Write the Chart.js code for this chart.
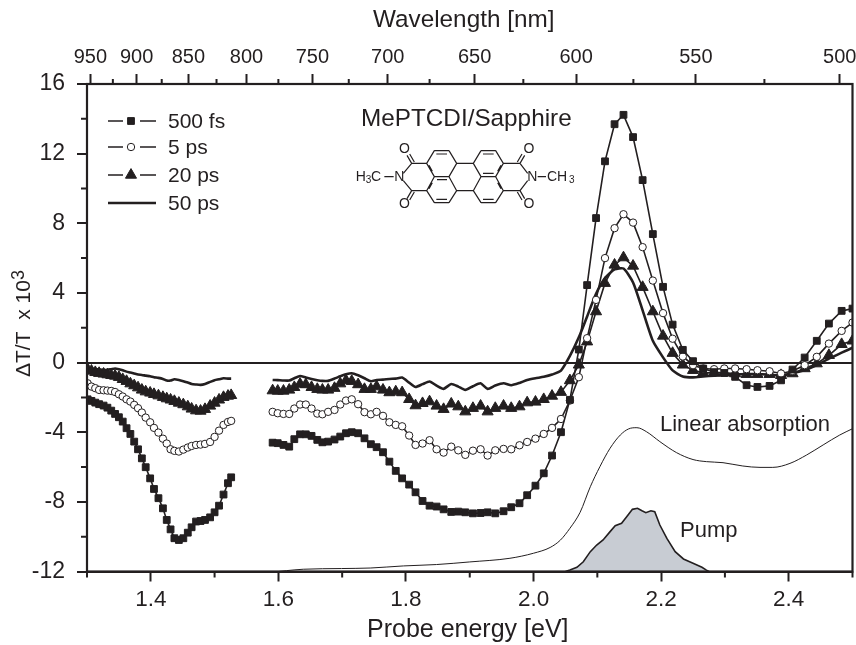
<!DOCTYPE html>
<html>
<head>
<meta charset="utf-8">
<title>MePTCDI/Sapphire</title>
<script src="https://cdn.jsdelivr.net/npm/chart.js@4/dist/chart.umd.js"></script>
<style>
  html, body { margin: 0; padding: 0; background: #fff; }
  canvas { display: block; }
</style>
</head>
<body>
<canvas id="chart" width="856" height="645"></canvas>
<script>
// probe energies [eV], near infrared part, then visible part
const energyNir = [1.301,1.307,1.313,1.319,1.326,1.332,1.338,1.344,1.350,1.356,
  1.362,1.368,1.374,1.380,1.386,1.392,1.399,1.405,1.412,1.419,
  1.425,1.431,1.437,1.444,1.451,1.458,1.464,1.471,1.478,1.485,
  1.493,1.500,1.507,1.514,1.521,1.526];
const energyVis = [1.591,1.599,1.608,1.617,1.625,1.634,1.643,1.652,1.661,1.669,
  1.678,1.688,1.697,1.706,1.715,1.725,1.735,1.745,1.754,1.764,
  1.774,1.784,1.794,1.805,1.815,1.826,1.837,1.848,1.859,1.871,
  1.882,1.893,1.905,1.917,1.928,1.940,1.953,1.965,1.978,1.990,
  2.003,2.016,2.029,2.043,2.057,2.071,
  2.084,2.098,2.112,2.127,2.141,2.156,2.171,2.187,2.203,2.218,
  2.234,2.250,2.266,2.283,2.299,2.316,2.334,2.351,2.370,2.388,
  2.406,2.425,2.444,2.463,2.483,2.500];

const fs500Nir = [-2.11,-2.20,-2.30,-2.39,-2.47,-2.59,-2.76,-2.95,-3.14,-3.39,
  -3.77,-4.10,-4.54,-4.98,-5.50,-6.01,-6.65,-7.26,-7.79,-8.37,
  -9.04,-9.58,-10.09,-10.19,-10.09,-9.77,-9.46,-9.13,-9.10,-9.04,
  -8.89,-8.60,-8.22,-7.58,-6.93,-6.59];
const fs500Vis = [-4.60,-4.63,-4.73,-4.83,-4.40,-4.12,-4.12,-4.21,-4.44,-4.58,
  -4.54,-4.42,-4.25,-4.06,-4.00,-4.06,-4.35,-4.69,-4.86,-5.15,
  -5.69,-6.22,-6.65,-7.01,-7.45,-7.95,-8.22,-8.27,-8.43,-8.58,
  -8.56,-8.60,-8.66,-8.64,-8.60,-8.66,-8.54,-8.31,-8.08,-7.62,
  -7.07,-6.36,-5.34,-4.00,-2.14,0.75,
  4.45,8.30,11.56,13.69,14.23,12.95,10.48,7.38,4.35,2.18,
  0.73,0.08,-0.34,-0.55,-0.60,-0.82,-1.30,-1.40,-1.34,-1.02,
  -0.40,0.29,1.25,2.24,2.97,3.10];

const ps5Nir = [-1.19,-1.38,-1.47,-1.57,-1.59,-1.61,-1.63,-1.69,-1.82,-1.95,
  -2.11,-2.24,-2.43,-2.62,-2.87,-3.16,-3.43,-3.75,-4.02,-4.37,
  -4.65,-4.98,-5.07,-5.11,-5.00,-4.88,-4.79,-4.73,-4.71,-4.67,
  -4.56,-4.27,-3.91,-3.58,-3.41,-3.35];
const ps5Vis = [-2.83,-2.91,-2.95,-2.95,-2.64,-2.41,-2.41,-2.64,-2.93,-2.97,
  -2.83,-2.72,-2.41,-2.18,-2.11,-2.39,-2.85,-2.97,-2.83,-3.06,
  -3.43,-3.58,-3.66,-4.19,-4.73,-4.65,-4.46,-4.98,-5.17,-4.83,
  -5.04,-5.30,-5.06,-4.98,-5.34,-5.04,-4.96,-4.98,-4.75,-4.56,
  -4.37,-4.10,-3.75,-3.24,-2.18,-0.84,
  1.40,3.60,6.00,7.72,8.52,8.04,6.63,4.71,2.84,1.37,
  0.35,-0.15,-0.34,-0.38,-0.34,-0.34,-0.38,-0.44,-0.50,-0.63,
  -0.48,-0.15,0.33,1.09,1.82,2.30];

const ps20Nir = [-0.38,-0.48,-0.56,-0.61,-0.65,-0.69,-0.73,-0.77,-0.84,-0.96,
  -1.07,-1.21,-1.32,-1.44,-1.57,-1.67,-1.74,-1.82,-1.90,-1.99,
  -2.07,-2.14,-2.22,-2.32,-2.41,-2.53,-2.66,-2.76,-2.78,-2.68,
  -2.49,-2.32,-2.14,-1.99,-1.92,-1.88];
const ps20Vis = [-1.61,-1.63,-1.63,-1.57,-1.42,-1.23,-1.26,-1.42,-1.53,-1.57,
  -1.57,-1.47,-1.21,-1.03,-1.07,-1.26,-1.53,-1.53,-1.38,-1.57,
  -1.72,-1.67,-1.72,-2.11,-2.47,-2.34,-2.24,-2.49,-2.68,-2.37,
  -2.53,-2.82,-2.62,-2.49,-2.82,-2.62,-2.49,-2.62,-2.53,-2.30,
  -2.26,-2.11,-1.92,-1.70,-1.03,-0.13,
  1.20,2.93,4.56,5.61,6.03,5.55,4.33,2.93,1.53,0.54,
  -0.13,-0.44,-0.59,-0.59,-0.59,-0.63,-0.67,-0.67,-0.67,-0.73,
  -0.63,-0.34,-0.06,0.42,1.05,1.25];

const ps50Nir = [-0.29,-0.36,-0.38,-0.40,-0.42,-0.42,-0.38,-0.34,-0.38,-0.44,
  -0.52,-0.57,-0.63,-0.69,-0.71,-0.75,-0.79,-0.84,-0.88,-0.94,
  -1.03,-1.03,-0.96,-1.00,-1.07,-1.15,-1.23,-1.26,-1.28,-1.23,
  -1.11,-1.01,-0.96,-0.90,-0.92,-0.92];
const ps50Vis = [-1.00,-1.01,-1.03,-1.03,-0.90,-0.77,-0.86,-0.94,-1.01,-1.05,
  -1.05,-0.92,-0.79,-0.67,-0.61,-0.73,-0.90,-1.07,-1.00,-0.98,
  -0.94,-0.92,-0.86,-1.15,-1.40,-1.24,-1.09,-1.32,-1.51,-1.23,
  -1.38,-1.57,-1.36,-1.19,-1.51,-1.32,-1.19,-1.30,-1.17,-1.00,
  -0.90,-0.82,-0.69,-0.46,0.38,1.45,
  2.65,3.95,4.85,5.35,5.40,4.60,3.00,1.25,0.30,-0.45,
  -0.80,-0.85,-0.80,-0.75,-0.70,-0.68,-0.66,-0.66,-0.70,-0.75,
  -0.60,-0.44,-0.15,0.23,0.57,0.85];

const absEnergy = [1.600,1.613,1.639,1.699,1.744,1.796,1.848,1.900,1.963,2.000,
  2.026,2.042,2.057,2.073,2.089,2.104,2.120,2.136,2.149,2.162,
  2.177,2.198,2.224,2.250,2.271,2.297,2.328,2.355,2.375,2.402,
  2.428,2.454,2.480,2.500];
const absValues = [-12.0,-11.95,-11.87,-11.83,-11.80,-11.68,-11.60,-11.45,-11.24,-10.95,
  -10.62,-10.20,-9.52,-8.60,-7.13,-5.98,-4.92,-4.16,-3.81,-3.74,
  -3.97,-4.54,-5.17,-5.57,-5.69,-5.75,-5.94,-6.02,-6.02,-5.79,
  -5.31,-4.73,-4.16,-3.80];

const pumpEnergy = [2.050,2.057,2.068,2.078,2.089,2.099,2.109,2.120,2.128,2.138,
  2.146,2.155,2.163,2.170,2.176,2.184,2.190,2.198,2.209,2.222,
  2.235,2.250,2.264,2.271,2.275];
const pumpValues = [-12.0,-11.92,-11.76,-11.44,-10.86,-10.48,-10.19,-9.71,-9.37,-9.23,
  -8.85,-8.43,-8.37,-8.51,-8.62,-8.51,-8.56,-9.33,-10.10,-10.86,
  -11.28,-11.53,-11.76,-11.92,-12.0];

const energyTicks = [1.4, 1.6, 1.8, 2.0, 2.2, 2.4];
const energyMinor = [1.3, 1.5, 1.7, 1.9, 2.1, 2.3, 2.5];
const signalTicks = [16, 12, 8, 4, 0, -4, -8, -12];
const signalMinor = [14, 10, 6, 2, -2, -6, -10];
const wavelengthTicks = [950, 900, 850, 800, 750, 700, 650, 600, 550, 500];
const wavelengthMinor = [925, 875, 825, 775, 725, 675, 625, 575, 525];

const INK = '#231f20';
const FONT = '"Liberation Sans", Arial, sans-serif';
const HC = 1240; // eV nm

const marks = {
  fs500: { pointStyle: 'rect', radius: 4.8, fill: INK },
  ps5: { pointStyle: 'circle', radius: 3.7, fill: '#fff' },
  ps20: { pointStyle: 'triangle', radius: 6.4, fill: INK }
};

function points(xs, ys) {
  return xs.map((x, i) => ({ x: x, y: ys[i] }));
}

// nir and visible parts, with a break over the gap between them
function traces(nir, vis) {
  return points(energyNir, nir).concat([{ x: 1.56, y: null }], points(energyVis, vis));
}

function fixedTicks(values) {
  return scale => { scale.ticks = values.map(v => ({ value: v })); };
}

// keep tick labels that stick out from pushing the plot area around
function fixSize(size) {
  return s => {
    if (s.isHorizontal()) s.height = size; else s.width = size;
    s.paddingLeft = s.paddingRight = s.paddingTop = s.paddingBottom = 0;
  };
}

function markerDataset(label, data, m) {
  return {
    label: label, data: data, borderColor: INK, borderWidth: 1.6, fill: false, tension: 0,
    pointStyle: m.pointStyle, pointRadius: m.radius, pointBackgroundColor: m.fill,
    pointBorderColor: INK, pointBorderWidth: 1
  };
}

const datasets = [
  {
    label: 'Pump', data: points(pumpEnergy, pumpValues), borderColor: INK, borderWidth: 1.6,
    backgroundColor: '#c8ccd3', fill: 'start', pointRadius: 0, tension: 0
  },
  {
    label: 'Linear absorption', data: points(absEnergy, absValues), borderColor: INK, borderWidth: 1,
    pointRadius: 0, fill: false, cubicInterpolationMode: 'monotone'
  },
  markerDataset('500 fs', traces(fs500Nir, fs500Vis), marks.fs500),
  markerDataset('5 ps', traces(ps5Nir, ps5Vis), marks.ps5),
  markerDataset('20 ps', traces(ps20Nir, ps20Vis), marks.ps20),
  {
    label: '50 ps', data: traces(ps50Nir, ps50Vis), borderColor: INK, borderWidth: 2.6,
    pointRadius: 0, fill: false, tension: 0.2
  }
];

// short ticks, the box around the plot, legend, labels and the molecule
const extras = {
  id: 'extras',
  afterDraw(chart) {
    const ctx = chart.ctx;
    const a = chart.chartArea;
    const sx = chart.scales.x, sy = chart.scales.y;
    ctx.save();
    ctx.strokeStyle = INK;
    ctx.fillStyle = INK;

    ctx.lineWidth = 2.2;
    ctx.strokeRect(a.left, a.top, a.right - a.left, a.bottom - a.top);

    ctx.lineWidth = 2;
    ctx.beginPath();
    energyMinor.forEach(v => {
      const x = sx.getPixelForValue(v);
      ctx.moveTo(x, a.bottom); ctx.lineTo(x, a.bottom + 6);
    });
    wavelengthMinor.forEach(v => {
      const x = sx.getPixelForValue(HC / v);
      ctx.moveTo(x, a.top); ctx.lineTo(x, a.top - 5);
    });
    signalMinor.forEach(v => {
      const y = sy.getPixelForValue(v);
      ctx.moveTo(a.left, y); ctx.lineTo(a.left - 6, y);
    });
    ctx.stroke();

    drawLegend(ctx);

    ctx.fillStyle = INK;
    ctx.textBaseline = 'middle';
    ctx.font = '24.3px ' + FONT;
    ctx.fillText('Wavelength [nm]', 373, 20);
    ctx.fillText('MePTCDI/Sapphire', 361, 119);
    ctx.font = '25px ' + FONT;
    ctx.fillText('Probe energy [eV]', 367, 630);
    ctx.font = '22px ' + FONT;
    ctx.fillText('Linear absorption', 660, 425);
    ctx.fillText('Pump', 680, 531);

    drawSignalTitle(ctx);
    drawMolecule(ctx);
    ctx.restore();
  }
};

function drawSignalTitle(ctx) {
  ctx.save();
  ctx.translate(30, 377);
  ctx.rotate(-Math.PI / 2);
  ctx.textBaseline = 'alphabetic';
  ctx.font = '21px ' + FONT;
  const main = 'ΔT/T  x 10';
  ctx.fillText(main, 0, 0);
  const w = ctx.measureText(main).width;
  ctx.font = '18px ' + FONT;
  ctx.fillText('3', w, -6);
  ctx.restore();
}

function drawLegend(ctx) {
  const rows = [
    { y: 121, label: '500 fs', mark: marks.fs500 },
    { y: 147, label: '5 ps', mark: marks.ps5 },
    { y: 175, label: '20 ps', mark: marks.ps20 },
    { y: 203, label: '50 ps' }
  ];
  ctx.font = '21px ' + FONT;
  ctx.textBaseline = 'middle';
  rows.forEach(r => {
    ctx.strokeStyle = INK;
    ctx.beginPath();
    if (r.mark) {
      ctx.lineWidth = 1.6;
      ctx.moveTo(108, r.y); ctx.lineTo(123, r.y);
      ctx.moveTo(140, r.y); ctx.lineTo(156, r.y);
      ctx.stroke();
      ctx.fillStyle = r.mark.fill;
      ctx.lineWidth = 1;
      Chart.helpers.drawPoint(ctx, { pointStyle: r.mark.pointStyle, radius: r.mark.radius, rotation: 0, borderWidth: 1 }, 131, r.y);
    } else {
      ctx.lineWidth = 2.6;
      ctx.moveTo(108, r.y); ctx.lineTo(156, r.y);
      ctx.stroke();
    }
    ctx.fillStyle = INK;
    ctx.fillText(r.label, 168, r.y + 1);
  });
}

function drawMolecule(ctx) {
  // bonds are given in a local drawing grid, three units to a pixel
  const bonds = [
    [245,100,268,62],[268,62,312,62],[312,62,335,100],[335,100,312,140],[312,140,268,140],[268,140,245,100],
    [245,182,268,218],[268,218,312,218],[312,218,335,182],[335,182,312,140],[268,140,245,182],
    [475,100,452,62],[452,62,408,62],[408,62,385,100],[385,100,408,140],[408,140,452,140],[452,140,475,100],
    [475,182,452,218],[452,218,408,218],[408,218,385,182],[385,182,408,140],[452,140,475,182],
    [335,100,385,100],[335,182,385,182],
    [245,100,200,100],[200,100,175,130],[245,182,200,182],[200,182,175,152],
    [475,100,525,100],[525,100,548,130],[475,182,525,182],[525,182,548,152],
    [200,100,186,76],[208,96,194,72],[200,182,186,206],[208,186,194,210],
    [525,100,539,76],[517,96,531,72],[525,182,539,206],[517,186,531,210],
    [118,140,146,140],[578,140,603,140],
    [274,72,306,72],[274,208,306,208],[276,149,306,149],
    [414,72,446,72],[414,208,446,208],[414,130,446,130],[252,106,262,124],[468,106,458,124],[252,176,262,158],[468,176,458,158]
  ];
  const left = 345, top = 130;
  ctx.strokeStyle = INK;
  ctx.lineWidth = 1.2;
  ctx.beginPath();
  bonds.forEach(b => {
    ctx.moveTo(left + b[0] / 3, top + b[1] / 3);
    ctx.lineTo(left + b[2] / 3, top + b[3] / 3);
  });
  ctx.stroke();

  ctx.fillStyle = INK;
  ctx.textBaseline = 'middle';
  ctx.textAlign = 'center';
  ctx.font = '14px ' + FONT;
  ctx.fillText('N', left + 163 / 3, top + 142 / 3);
  ctx.fillText('N', left + 562 / 3, top + 142 / 3);
  ctx.fillText('O', left + 178 / 3, top + 56 / 3);
  ctx.fillText('O', left + 178 / 3, top + 221 / 3);
  ctx.fillText('O', left + 552 / 3, top + 56 / 3);
  ctx.fillText('O', left + 552 / 3, top + 221 / 3);
  ctx.textAlign = 'left';
  ctx.fillText('H', left + 32 / 3, top + 142 / 3);
  ctx.fillText('C', left + 78 / 3, top + 142 / 3);
  ctx.fillText('CH', left + 606 / 3, top + 142 / 3);
  ctx.font = '10px ' + FONT;
  ctx.fillText('3', left + 62 / 3, top + 150 / 3);
  ctx.fillText('3', left + 672 / 3, top + 150 / 3);
  ctx.textAlign = 'start';
}

new Chart(document.getElementById('chart'), {
  type: 'scatter',
  data: { datasets: datasets },
  plugins: [extras],
  options: {
    responsive: false,
    animation: false,
    showLine: true,
    // no extra room for marker overflow, the plot box is fixed
    layout: { autoPadding: false, padding: { right: 3.5 } },
    plugins: { legend: { display: false }, tooltip: { enabled: false } },
    elements: { line: { spanGaps: false } },
    scales: {
      x: {
        type: 'linear', position: 'bottom', min: 1.3, max: 2.5,
        afterBuildTicks: fixedTicks(energyTicks),
        afterFit: fixSize(73.5),
        grid: { drawOnChartArea: false, tickLength: 10, tickWidth: 2, tickColor: INK },
        border: { color: INK, width: 2 },
        ticks: {
          autoSkip: false, maxRotation: 0, color: INK, padding: 5,
          font: { family: FONT, size: 22.5 },
          callback: v => v.toFixed(1)
        }
      },
      top: {
        type: 'linear', position: 'top', min: 1.3, max: 2.5,
        afterBuildTicks: fixedTicks(wavelengthTicks.map(w => HC / w)),
        afterFit: fixSize(84),
        grid: { drawOnChartArea: false, tickLength: 10, tickWidth: 2, tickColor: INK },
        border: { color: INK, width: 2 },
        ticks: {
          autoSkip: false, maxRotation: 0, color: INK, padding: 5,
          font: { family: FONT, size: 20 },
          callback: v => String(Math.round(HC / v))
        }
      },
      y: {
        type: 'linear', position: 'left', min: -12, max: 16,
        afterBuildTicks: fixedTicks(signalTicks),
        afterFit: fixSize(87),
        grid: {
          tickLength: 10, tickWidth: 2, tickColor: INK,
          lineWidth: 2,
          color: c => (c.tick && c.tick.value === 0 ? INK : 'rgba(0,0,0,0)')
        },
        border: { color: INK, width: 2 },
        ticks: { autoSkip: false, color: INK, padding: 12, font: { family: FONT, size: 23 } }
      }
    }
  }
});
</script>
</body>
</html>
